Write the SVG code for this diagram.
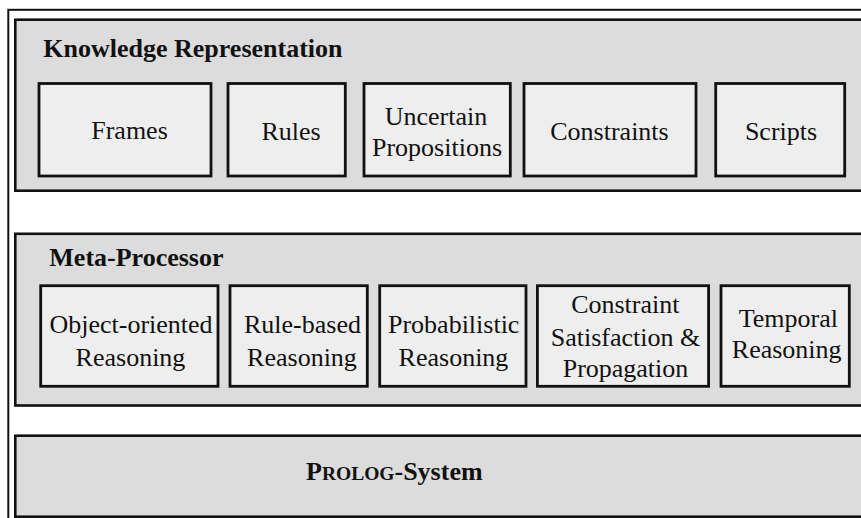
<svg xmlns="http://www.w3.org/2000/svg" width="861" height="518" viewBox="0 0 861 518">
<style>
.frame{fill:#ffffff;stroke:#111;stroke-width:2}
.layer{fill:#dcdcdc;stroke:#111;stroke-width:2.6}
.box{fill:#eeeeee;stroke:#111;stroke-width:2.8}
text{font-family:"Liberation Serif","Times New Roman",serif;fill:#111}
.t{font-size:26px;text-anchor:middle}
.h{font-size:26px;font-weight:bold}
</style>
<rect class="frame" x="8.3" y="9.8" width="880" height="540"/>
<g id="knowledge-representation">
<rect class="layer" x="15.3" y="19.7" width="870" height="171"/>
<text class="h" x="43.3" y="57">Knowledge Representation</text>
</g>
<g id="frames"><rect class="box" x="39" y="83.5" width="172" height="92.5"/><text class="t" x="129.5" y="138.5">Frames</text></g>
<g id="rules"><rect class="box" x="228" y="83.5" width="117.3" height="92.5"/><text class="t" x="291" y="140">Rules</text></g>
<g id="uncertain"><rect class="box" x="364" y="83.5" width="146.3" height="92.5"/><text class="t" x="436" y="125">Uncertain</text><text class="t" x="437" y="156">Propositions</text></g>
<g id="constraints"><rect class="box" x="524" y="83.5" width="172" height="92.5"/><text class="t" x="609.5" y="140">Constraints</text></g>
<g id="scripts"><rect class="box" x="715.7" y="83.5" width="129" height="92.5"/><text class="t" x="781" y="140">Scripts</text></g>
<g id="meta-processor">
<rect class="layer" x="15.3" y="233.8" width="870" height="171.7"/>
<text class="h" x="49.3" y="265.7">Meta-Processor</text>
</g>
<g id="object-oriented"><rect class="box" x="40.7" y="285.7" width="177.3" height="100.6"/><text class="t" x="131" y="332.7">Object-oriented</text><text class="t" x="130.5" y="365.7">Reasoning</text></g>
<g id="rule-based"><rect class="box" x="230" y="285.7" width="137.3" height="100.6"/><text class="t" x="302.5" y="332.7">Rule-based</text><text class="t" x="302" y="365.7">Reasoning</text></g>
<g id="probabilistic"><rect class="box" x="379.7" y="285.7" width="146.3" height="100.6"/><text class="t" x="453.7" y="332.7">Probabilistic</text><text class="t" x="453.5" y="365.7">Reasoning</text></g>
<g id="constraint-satisfaction"><rect class="box" x="537.4" y="285.7" width="171.2" height="100.6"/><text class="t" x="625.3" y="313.3">Constraint</text><text class="t" x="625.5" y="346">Satisfaction &amp;</text><text class="t" x="625.5" y="377">Propagation</text></g>
<g id="temporal"><rect class="box" x="721" y="285.7" width="128.3" height="100.6"/><text class="t" x="788.3" y="326.7">Temporal</text><text class="t" x="786.7" y="358.3">Reasoning</text></g>
<g id="prolog-system">
<rect class="layer" x="15.3" y="435.7" width="870" height="81"/>
<text x="306" y="480" style="font-size:26px;font-weight:bold">P<tspan style="font-size:19.5px">ROLOG</tspan>-System</text>
</g>
<g id="connectors"/>
</svg>
